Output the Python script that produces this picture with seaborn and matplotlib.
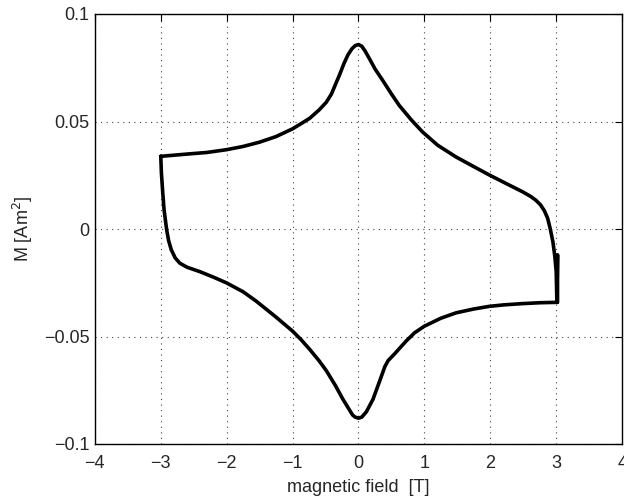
import numpy as np
import pandas as pd
import matplotlib
matplotlib.use('Agg')
import matplotlib.pyplot as plt
import seaborn as sns

# loop: upper branch left->right, then lower branch right->left
field = [-3.00, -2.66, -2.30, -2.00, -1.75, -1.50, -1.25, -1.00, -0.85, -0.74,
         -0.60, -0.49, -0.41, -0.35, -0.29, -0.22, -0.16, -0.10, -0.05, 0.00,
         0.05, 0.10, 0.17, 0.25, 0.37, 0.50, 0.62, 0.80, 0.97, 1.20,
         1.48, 1.75, 1.98, 2.25, 2.49, 2.62, 2.69, 2.76, 2.82, 2.87,
         2.91, 2.95, 2.98, 3.00, 3.01, 3.02, 3.02,
         2.75, 2.49, 2.20, 1.98, 1.75, 1.48, 1.25, 1.00, 0.85, 0.72,
         0.55, 0.45, 0.40, 0.33, 0.22, 0.12, 0.05, 0.00, -0.05, -0.09,
         -0.16, -0.24, -0.35, -0.49, -0.60, -0.74, -0.87, -1.00, -1.25, -1.55,
         -1.75, -2.00, -2.20, -2.41, -2.60, -2.71, -2.78, -2.84, -2.88, -2.91,
         -2.95, -2.97, -2.99, -3.00]
moment = [0.0338, 0.0347, 0.0356, 0.0369, 0.0384, 0.0404, 0.0430, 0.0466, 0.0494, 0.0515,
          0.0553, 0.0589, 0.0628, 0.0672, 0.0715, 0.0770, 0.0810, 0.0838, 0.0853, 0.0858,
          0.0850, 0.0828, 0.0790, 0.0745, 0.0690, 0.0628, 0.0574, 0.0508, 0.0452, 0.0390,
          0.0335, 0.0290, 0.0252, 0.0210, 0.0173, 0.0150, 0.0134, 0.0113, 0.0085, 0.0050,
          0.0000, -0.0060, -0.0130, -0.0200, -0.0341, -0.0120, -0.0341,
          -0.0343, -0.0347, -0.0353, -0.0360, -0.0372, -0.0390, -0.0415, -0.0452, -0.0483, -0.0522,
          -0.0580, -0.0612, -0.0640, -0.0700, -0.0792, -0.0850, -0.0875, -0.0880, -0.0875, -0.0865,
          -0.0830, -0.0790, -0.0728, -0.0658, -0.0612, -0.0560, -0.0515, -0.0475, -0.0410, -0.0336,
          -0.0292, -0.0251, -0.0224, -0.0198, -0.0178, -0.0159, -0.0135, -0.0097, -0.0055, -0.0005,
          0.0090, 0.0170, 0.0260, 0.0338]

x_ticks = [-4, -3, -2, -1, 0, 1, 2, 3, 4]
y_ticks = [-0.1, -0.05, 0, 0.05, 0.1]
y_tick_labels = ['\u22120.1', '\u22120.05', '0', '0.05', '0.1']


def main():
    sns.set_style('white')
    plt.rcParams['font.family'] = ['Liberation Sans', 'DejaVu Sans']
    df = pd.DataFrame({'field': field, 'M': moment})

    fig = plt.figure(figsize=(6.24, 5), dpi=100)
    ax = fig.add_axes([0.152, 0.112, 0.845, 0.86])
    sns.lineplot(x='field', y='M', data=df, sort=False, estimator=None,
                 color='black', linewidth=2.6, ax=ax)

    ax.set_xlim(-4, 4)
    ax.set_ylim(-0.1, 0.1)
    ax.set_xticks(x_ticks)
    ax.set_yticks(y_ticks)
    ax.set_yticklabels(y_tick_labels)
    ax.grid(True, linestyle=(0, (1, 4)), color='#444444', linewidth=0.8)
    ax.tick_params(direction='in', top=True, right=True, length=5,
                   labelsize=13, color='black')
    ax.tick_params(axis='x', pad=8)
    ax.tick_params(axis='y', pad=4)
    for s in ax.spines.values():
        s.set_color('black')
        s.set_linewidth(1.0)
    ax.set_xlabel('magnetic field  [T]', fontsize=13, labelpad=5)
    ax.set_ylabel('M [Am$^2$]', fontsize=13, labelpad=6)
    fig.savefig('out.png', dpi=100)


if __name__ == '__main__':
    main()
